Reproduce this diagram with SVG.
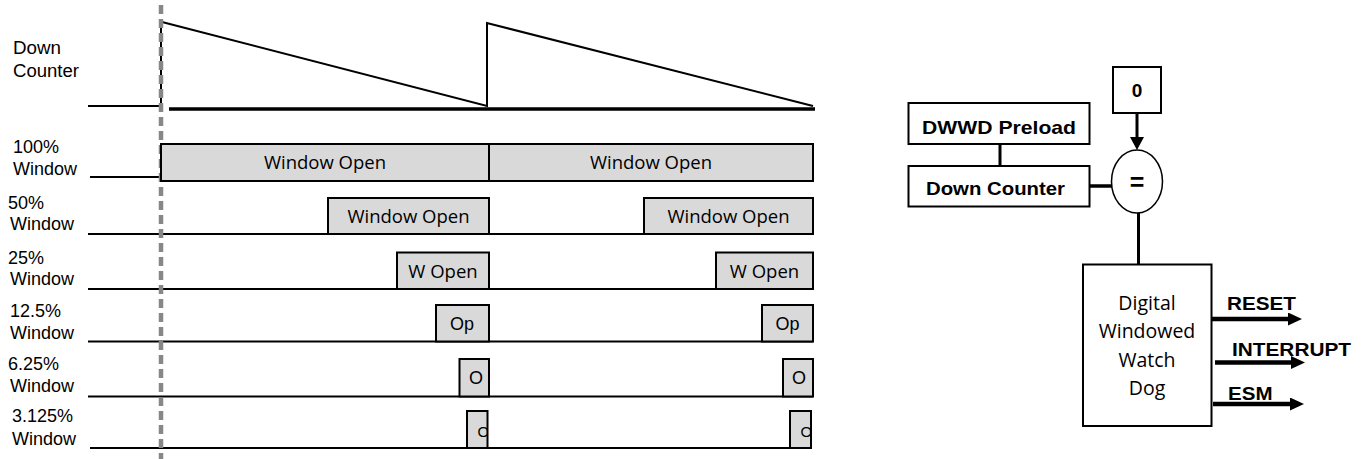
<svg xmlns="http://www.w3.org/2000/svg" width="1366" height="459" viewBox="0 0 1366 459">
<style>
.lbl{font-family:"Liberation Sans",Arial,sans-serif;font-size:18px;fill:#000}
.win{font-family:"Open Sans","Liberation Sans",sans-serif;font-size:18.5px;fill:#000;text-anchor:middle}
.sm{font-family:"Liberation Sans",Arial,sans-serif;font-size:18px;fill:#000;text-anchor:middle}
.bold{font-family:"Liberation Sans",Arial,sans-serif;font-weight:bold;font-size:19px;fill:#000}
.blk{fill:#d9d9d9;stroke:#000;stroke-width:2}
.ln{stroke:#000;stroke-width:2;fill:none}
.box{fill:#fff;stroke:#000;stroke-width:2}
</style>
<defs>
<marker id="arr" markerUnits="userSpaceOnUse" markerWidth="14" markerHeight="14" refX="1" refY="6.5" orient="auto">
<path d="M0,0 L14,6.5 L0,13 Z" fill="#000"/>
</marker>
<clipPath id="c6a"><rect x="467" y="411" width="20" height="37"/></clipPath>
<clipPath id="c6b"><rect x="790" y="411" width="21" height="37"/></clipPath>
</defs>

<g id="labels">
<text class="lbl" x="13" y="54" textLength="48" lengthAdjust="spacingAndGlyphs">Down</text>
<text class="lbl" x="13" y="77" textLength="66" lengthAdjust="spacingAndGlyphs">Counter</text>
<text class="lbl" x="13" y="153">100%</text>
<text class="lbl" x="13" y="175">Window</text>
<text class="lbl" x="8" y="209">50%</text>
<text class="lbl" x="10" y="230">Window</text>
<text class="lbl" x="8" y="264">25%</text>
<text class="lbl" x="10" y="285">Window</text>
<text class="lbl" x="10" y="317">12.5%</text>
<text class="lbl" x="10" y="339">Window</text>
<text class="lbl" x="8" y="370">6.25%</text>
<text class="lbl" x="10" y="392">Window</text>
<text class="lbl" x="12" y="422">3.125%</text>
<text class="lbl" x="12" y="445">Window</text>
</g>

<g id="down-counter-wave">
<line class="ln" x1="88" y1="106" x2="161" y2="106"/>
<line class="ln" x1="161" y1="23" x2="161" y2="106"/>
<line x1="169" y1="109" x2="815" y2="109" stroke="#000" stroke-width="3.5"/>
<polyline class="ln" points="162,22 487,106 487,23 813,106"/>
</g>

<g id="row-lines">
<line class="ln" x1="90" y1="177" x2="161" y2="177"/>
<line class="ln" x1="88" y1="234" x2="813" y2="234"/>
<line class="ln" x1="88" y1="289" x2="813" y2="289"/>
<line class="ln" x1="88" y1="341.5" x2="813" y2="341.5"/>
<line class="ln" x1="88" y1="396.5" x2="813" y2="396.5"/>
<line class="ln" x1="90" y1="448" x2="811" y2="448"/>
</g>

<g id="reset-marker">
<line x1="161" y1="5" x2="161" y2="459" stroke="#878787" stroke-width="4.5" stroke-dasharray="9 5"/>
</g>

<g id="row-100">
<rect class="blk" x="161" y="144" width="328" height="37"/>
<rect class="blk" x="489" y="144" width="324" height="37"/>
<text class="win" x="325" y="169">Window Open</text>
<text class="win" x="651" y="169">Window Open</text>
</g>
<g id="row-50">
<rect class="blk" x="328" y="198" width="161" height="36"/>
<rect class="blk" x="644" y="198" width="169" height="36"/>
<text class="win" x="408.5" y="223">Window Open</text>
<text class="win" x="728.5" y="223">Window Open</text>
</g>
<g id="row-25">
<rect class="blk" x="397" y="252.5" width="92" height="36.5"/>
<rect class="blk" x="716" y="252.5" width="97" height="36.5"/>
<text class="win" x="443" y="278">W Open</text>
<text class="win" x="764.5" y="278">W Open</text>
</g>
<g id="row-12-5">
<rect class="blk" x="436" y="305" width="53" height="36.5"/>
<rect class="blk" x="762" y="305" width="51" height="36.5"/>
<text class="sm" x="462" y="330">Op</text>
<text class="sm" x="787.5" y="330">Op</text>
</g>
<g id="row-6-25">
<rect class="blk" x="459.5" y="359" width="29.5" height="37.5"/>
<rect class="blk" x="783" y="359" width="30" height="37.5"/>
<text class="sm" x="476" y="384">O</text>
<text class="sm" x="799" y="384">O</text>
</g>
<g id="row-3-125">
<rect class="blk" x="467" y="411" width="20.5" height="37"/>
<rect class="blk" x="790" y="411" width="21" height="37"/>
<text class="lbl" style="font-size:15px" x="477.5" y="436.5" clip-path="url(#c6a)">O</text>
<text class="lbl" style="font-size:15px" x="800.5" y="436.5" clip-path="url(#c6b)">O</text>
</g>

<g id="zero">
<rect class="box" x="1113" y="67" width="48" height="46"/>
<text class="bold" x="1137" y="97" text-anchor="middle">0</text>
</g>
<g id="preload">
<rect class="box" x="908.5" y="103" width="181" height="41"/>
<text class="bold" x="922" y="134" textLength="154" lengthAdjust="spacingAndGlyphs">DWWD Preload</text>
</g>
<g id="counter">
<rect class="box" x="908.5" y="166" width="181" height="40.5"/>
<text class="bold" x="926" y="195" textLength="139" lengthAdjust="spacingAndGlyphs">Down Counter</text>
</g>
<g id="compare">
<ellipse cx="1137" cy="181.5" rx="25.5" ry="31.5" fill="#fff" stroke="#000" stroke-width="1.5"/>
<text class="bold" x="1137" y="191" text-anchor="middle" style="font-size:25px">=</text>
</g>
<g id="dwwd">
<rect class="box" x="1083" y="264.5" width="128.5" height="161.5"/>
<text class="win" style="font-size:19.5px" x="1147" y="310">Digital</text>
<text class="win" style="font-size:19.5px" x="1147" y="338">Windowed</text>
<text class="win" style="font-size:19.5px" x="1147" y="366.5">Watch</text>
<text class="win" style="font-size:19.5px" x="1147" y="395">Dog</text>
</g>

<g id="connectors">
<line x1="1000" y1="144" x2="1000" y2="166" stroke="#000" stroke-width="3"/>
<line x1="1089.5" y1="186" x2="1112" y2="186" stroke="#000" stroke-width="3.5"/>
<line x1="1137" y1="113" x2="1137" y2="138" stroke="#000" stroke-width="3"/>
<polygon points="1130,137 1144,137 1137,150" fill="#000"/>
<line x1="1138.5" y1="213" x2="1138.5" y2="264.5" stroke="#000" stroke-width="3"/>
<line x1="1211.5" y1="319" x2="1289" y2="319" stroke="#000" stroke-width="4.5" marker-end="url(#arr)"/>
<line x1="1215" y1="362.5" x2="1292" y2="362.5" stroke="#000" stroke-width="4.5" marker-end="url(#arr)"/>
<line x1="1213" y1="404" x2="1291" y2="404" stroke="#000" stroke-width="4.5" marker-end="url(#arr)"/>
</g>

<g id="output-labels">
<text class="bold" x="1227" y="310" textLength="69" lengthAdjust="spacingAndGlyphs">RESET</text>
<text class="bold" x="1232" y="356" textLength="119" lengthAdjust="spacingAndGlyphs">INTERRUPT</text>
<text class="bold" x="1228" y="399.5" textLength="44.5" lengthAdjust="spacingAndGlyphs">ESM</text>
</g>
</svg>
